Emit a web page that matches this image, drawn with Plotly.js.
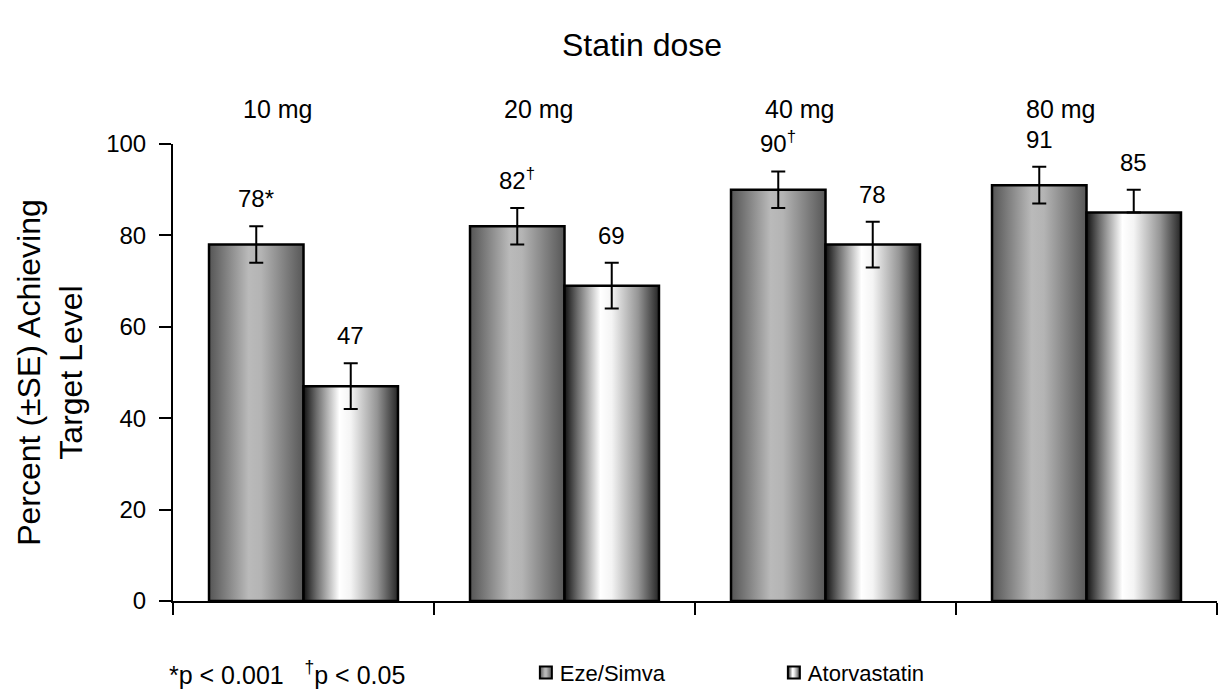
<!DOCTYPE html>
<html>
<head>
<meta charset="utf-8">
<script src="https://cdn.plot.ly/plotly-3.0.1.min.js"></script>
<style>html,body{margin:0;padding:0;background:#fff;}#chart{width:1222px;height:700px;}</style>
</head>
<body>
<div id="chart"></div>
<script>
// ---- data ----
var doses = ['10 mg', '20 mg', '40 mg', '80 mg'];
var seriesNames = ['Eze/Simva', 'Atorvastatin'];
var ezeValues = [78, 82, 90, 91];
var atorValues = [47, 69, 78, 85];
var ezeSE = [4, 4, 4, 4];
var atorSEplus = [5, 5, 5, 5];
var atorSEminus = [5, 5, 5, 0];
var ezeLabels = ['78*', '82<sup>†</sup>', '90<sup>†</sup>', '91'];
var atorLabels = ['47', '69', '78', '85'];
var yTicks = [0, 20, 40, 60, 80, 100];
var footnote = '*p < 0.001   <sup>†</sup>p < 0.05';

// ---- layout constants ----
var W = 1222, H = 700;
var M = {l: 173, r: 5, t: 144, b: 99};
var BARGAP = 0.276;
var FONT = 'Liberation Sans, Arial, Helvetica, sans-serif';
var FS = 24;
var plotW = W - M.l - M.r;
var catW = plotW / doses.length;
var barHalfOffset = catW * (1 - BARGAP) / 4; // center of each bar relative to category center

var errStyle = {type: 'data', visible: true, color: '#000', thickness: 2, width: 7};

var traces = [
  {
    type: 'bar', name: seriesNames[0], x: doses, y: ezeValues,
    marker: {color: '#9a9a9a', line: {color: '#000', width: 2.5}},
    error_y: Object.assign({array: ezeSE, symmetric: true}, errStyle),
    hoverinfo: 'none'
  },
  {
    type: 'bar', name: seriesNames[1], x: doses, y: atorValues,
    marker: {color: '#cccccc', line: {color: '#000', width: 2.5}},
    error_y: Object.assign({array: atorSEplus, arrayminus: atorSEminus, symmetric: false}, errStyle),
    hoverinfo: 'none'
  }
];

var annotations = [];
doses.forEach(function (d) {
  annotations.push({
    x: d, xref: 'x', xshift: -26, y: 1, yref: 'paper', yanchor: 'bottom', yshift: 19,
    text: d, showarrow: false, font: {family: FONT, size: 25, color: '#000'}
  });
});
function addLabels(vals, errs, labels, sign) {
  vals.forEach(function (v, i) {
    annotations.push({
      x: doses[i], xref: 'x', y: v + errs[i], yref: 'y',
      xshift: sign * barHalfOffset, yanchor: 'bottom', yshift: 12,
      text: labels[i], showarrow: false, font: {family: FONT, size: FS, color: '#000'}
    });
  });
}
addLabels(ezeValues, ezeSE, ezeLabels, -1);
addLabels(atorValues, atorSEplus, atorLabels, 1);
annotations.push({
  x: -0.006, xref: 'paper', xanchor: 'left', y: -0.157, yref: 'paper', yanchor: 'middle',
  text: footnote, showarrow: false, font: {family: FONT, size: 25, color: '#000'}
});

var layout = {
  width: W, height: H, autosize: false,
  margin: M,
  paper_bgcolor: '#fff', plot_bgcolor: '#fff',
  font: {family: FONT, size: FS, color: '#000'},
  title: {
    text: 'Statin dose', x: 642 / W, xanchor: 'center', xref: 'container',
    y: 1 - 45 / H, yanchor: 'middle', yref: 'container',
    font: {family: FONT, size: 32, color: '#000'}
  },
  barmode: 'group', bargap: BARGAP, bargroupgap: 0,
  showlegend: true,
  legend: {
    orientation: 'h', x: 0.338, xanchor: 'left', y: -0.157, yanchor: 'middle',
    entrywidth: 203, entrywidthmode: 'pixels',
    font: {family: FONT, size: 22, color: '#000'}, bgcolor: 'rgba(0,0,0,0)'
  },
  xaxis: {
    type: 'category', range: [-0.5, doses.length - 0.5], fixedrange: true,
    showline: true, linecolor: '#000', linewidth: 2,
    ticks: 'outside', tickson: 'boundaries', ticklen: 12, tickwidth: 2, tickcolor: '#000',
    showticklabels: false, showgrid: false, zeroline: false
  },
  yaxis: {
    range: [0, 100], tickvals: yTicks, fixedrange: true,
    showline: true, linecolor: '#000', linewidth: 2,
    ticks: 'outside', ticklen: 12, tickwidth: 2, tickcolor: '#000',
    ticklabelstandoff: 8,
    tickfont: {family: FONT, size: FS, color: '#000'},
    showgrid: false, zeroline: false,
    title: {text: 'Percent (±SE) Achieving<br>Target Level', font: {family: FONT, size: 32, color: '#000'}, standoff: 14}
  },
  annotations: annotations
};

function applyGradients(gd) {
  var svg = gd.querySelector('svg.main-svg');
  var NS = 'http://www.w3.org/2000/svg';
  var defs = document.createElementNS(NS, 'defs');
  var grads = {
    gradEze: [[0, '#555555'], [0.42, '#bababa'], [0.55, '#b4b4b4'], [1, '#575757']],
    gradAtor: [[0, '#111111'], [0.14, '#6e6e6e'], [0.38, '#ffffff'], [0.5, '#f4f4f4'], [0.78, '#959595'], [1, '#262626']]
  };
  Object.keys(grads).forEach(function (id) {
    var g = document.createElementNS(NS, 'linearGradient');
    g.setAttribute('id', id);
    g.setAttribute('x1', '0'); g.setAttribute('y1', '0');
    g.setAttribute('x2', '1'); g.setAttribute('y2', '0');
    grads[id].forEach(function (s) {
      var st = document.createElementNS(NS, 'stop');
      st.setAttribute('offset', s[0]);
      st.setAttribute('stop-color', s[1]);
      g.appendChild(st);
    });
    defs.appendChild(g);
  });
  svg.insertBefore(defs, svg.firstChild);
  var ids = ['gradEze', 'gradAtor'];
  gd.querySelectorAll('.barlayer .trace.bars').forEach(function (t, i) {
    t.querySelectorAll('path').forEach(function (p) { p.style.fill = 'url(#' + ids[i] + ')'; });
  });
  gd.querySelectorAll('.legend .traces').forEach(function (t, i) {
    t.querySelectorAll('.legendpoints path').forEach(function (p) { p.style.fill = 'url(#' + ids[i] + ')'; p.style.strokeWidth = '2px'; });
    var txt = t.querySelector('.legendtext');
    if (txt) { txt.setAttribute('x', 34); }
  });
}

Plotly.newPlot('chart', traces, layout, {displayModeBar: false, staticPlot: true}).then(applyGradients);
</script>
</body>
</html>
